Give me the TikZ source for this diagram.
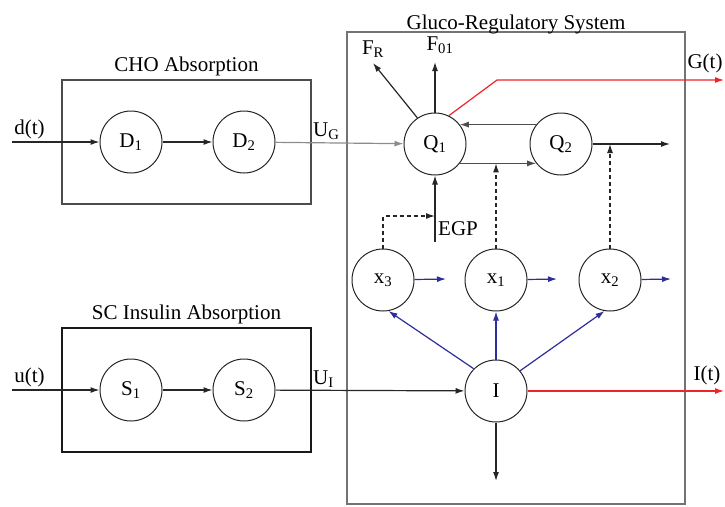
\documentclass[tikz,border=0pt]{standalone}
\usepackage{fontspec}
\setmainfont{Liberation Serif}
\usepackage{xcolor}
\usepackage{tikz}
\usetikzlibrary{arrows.meta, positioning, calc}

\definecolor{sigred}{RGB}{240,35,40}
\definecolor{insblue}{RGB}{45,45,155}

\begin{document}
\begin{tikzpicture}[
      x=1pt, y=-1pt,
      font=\rmfamily\fontsize{21}{25}\selectfont,
      comp/.style={circle, draw=black!85, line width=1pt, minimum size=62pt, inner sep=0pt},
      block/.style={rectangle, line width=1.5pt, inner sep=0pt},
      flow/.style={-{Latex[length=9pt, width=6pt]}, line width=1.2pt, draw=black!85},
      ctrl/.style={flow, dash pattern=on 4pt off 3pt},
      sig/.style={flow, draw=sigred},
      ins/.style={flow, draw=insblue},
      tag/.style={inner sep=2pt}
    ]
      \useasboundingbox (0,0) rectangle (725,506);
      % blocks
      \node[block, draw=black!70, minimum width=249pt, minimum height=124pt] (cho) at (186.5,142) {};
      \node[above=0pt of cho] (chotitle) {CHO Absorption};
      \node[block, draw=black!90, minimum width=249pt, minimum height=124pt] (sc) at (186.5,390) {};
      \node[above=0pt of sc] (sctitle) {SC Insulin Absorption};
      \node[block, draw=black!55, minimum width=338pt, minimum height=472pt] (gluco) at (516,268) {};
      \node[above=-6pt of gluco] (glucotitle) {Gluco-Regulatory System};
      % compartments
      \node[comp] (D1) at (131,142) {D\textsubscript{1}};
      \node[comp, right=50pt of D1] (D2) {D\textsubscript{2}};
      \node[comp] (S1) at (131,390) {S\textsubscript{1}};
      \node[comp, right=50pt of S1] (S2) {S\textsubscript{2}};
      \node[comp] (Q1) at (435,144) {Q\textsubscript{1}};
      \node[comp, right=63pt of Q1] (Q2) {Q\textsubscript{2}};
      \node[comp] (I) at (496,391) {I};
      \node[comp] (x1) at (496,280) {x\textsubscript{1}};
      \node[comp] (x3) at (383,280) {x\textsubscript{3}};
      \node[comp] (x2) at (610,280) {x\textsubscript{2}};
      % free ends
      \coordinate (din) at (12,142);
      \coordinate (uin) at (12,390);
      \coordinate (egp) at (435,242);
      \coordinate (egpin) at (435,216);
      \coordinate (f01) at (435,62);
      \coordinate (fr) at (373,63);
      \coordinate (gbend) at (497,80);
      \coordinate (gout) at (724,80);
      \coordinate (q2out) at (670,144);
      \coordinate (itout) at (724,391);
      \coordinate (iout) at (496,481);
      \coordinate (x3out) at (446,279);
      \coordinate (x1out) at (557,279);
      \coordinate (x2out) at (671,279);
      % absorption
      \draw[flow] (din) -- node[pos=0.2, above, tag] (dlabel) {d(t)} (D1);
      \draw[flow] (D1) -- (D2);
      \draw[flow, draw=black!45] (D2) -- (Q1);
      \node[anchor=south west, tag] (uglabel) at (311,142) {U\textsubscript{G}};
      \draw[flow] (uin) -- node[pos=0.2, above, tag] (ulabel) {u(t)} (S1);
      \draw[flow] (S1) -- (S2);
      \draw[flow] (S2) -- (I);
      \node[anchor=south west, tag] (uilabel) at (311,390) {U\textsubscript{I}};
      % glucose
      \draw[flow, draw=black!70] (Q2.142) -- (Q1.38);
      \draw[flow, draw=black!70] (Q1.-38) -- (Q2.-142);
      \draw[flow] (Q2) -- (q2out);
      \draw[flow] (egp) -- (Q1);
      \node[anchor=west, inner sep=1pt] (egplabel) at (437,229) {EGP};
      \draw[flow] (Q1) -- (f01);
      \node (f01label) at (440,45) {F\textsubscript{01}};
      \draw[flow] (Q1.124) -- (fr);
      \node (frlabel) at (373,49) {F\textsubscript{R}};
      \draw[sig] (Q1.64) -- (gbend) -- (gout);
      \node (glabel) at (705,63) {G(t)};
      % insulin action
      \draw[ctrl] (x3) |- (egpin);
      \draw[ctrl] (x1) -- (x1 |- Q1.-38);
      \draw[ctrl] (x2) -- (x2 |- Q2.east);
      \draw[ins] (x3) -- (x3out);
      \draw[ins] (x1) -- (x1out);
      \draw[ins] (x2) -- (x2out);
      \draw[ins] (I.135) -- (x3.-80);
      \draw[ins] (I) -- (x1);
      \draw[ins] (I.40) -- (x2.-100);
      \draw[flow] (I) -- (iout);
      \draw[sig] (I) -- (itout);
      \node (ilabel) at (707,375) {I(t)};
    \end{tikzpicture}
\end{document}
